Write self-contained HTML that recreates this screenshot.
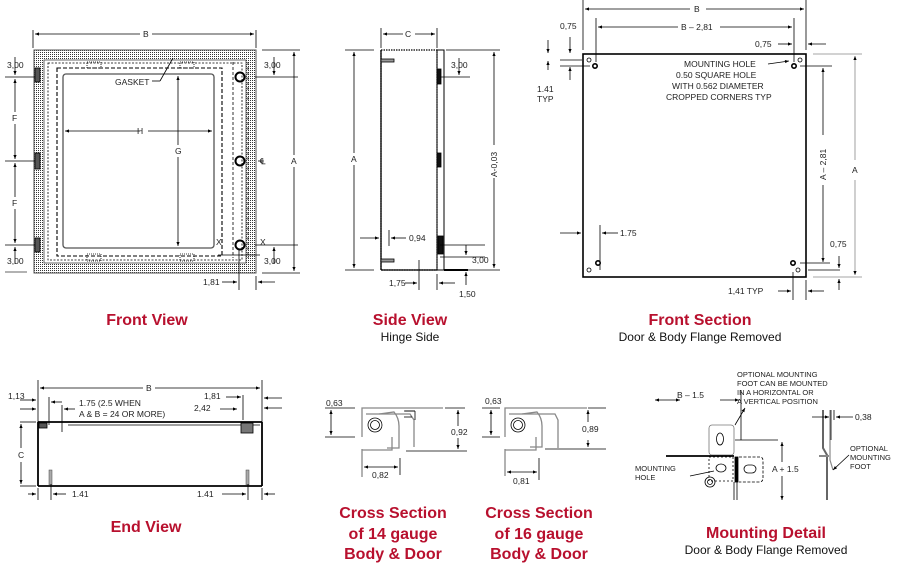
<!DOCTYPE html>
<html><head><meta charset="utf-8"><style>
html,body{margin:0;padding:0;background:#fff;}
svg{display:block;font-family:"Liberation Sans",Arial,sans-serif;}
.t{font-size:8.5px;fill:#222;}
.h{font-size:16px;font-weight:bold;fill:#b8102e;}
.s{font-size:12px;fill:#111;}
</style></head><body>
<svg width="899" height="567" viewBox="0 0 899 567" xmlns="http://www.w3.org/2000/svg">
<defs>
<marker id="a" viewBox="0 0 10 10" refX="10" refY="5" markerWidth="7" markerHeight="5" orient="auto-start-reverse"><path d="M0,1 L10,5 L0,9 z" fill="#000"/></marker>
<pattern id="dot" width="2" height="2" patternUnits="userSpaceOnUse"><rect width="1" height="1" fill="#333"/></pattern>
</defs>
<g stroke="#000" fill="none" stroke-width="0.8">
<!-- FRONT VIEW -->
<line x1="33" y1="30" x2="33" y2="48"/><line x1="256" y1="30" x2="256" y2="48"/>
<line x1="35" y1="34" x2="140" y2="34" marker-start="url(#a)"/><line x1="152" y1="34" x2="254" y2="34" marker-end="url(#a)"/>
<rect x="34" y="50" width="222" height="223" fill="url(#dot)" stroke="#555" stroke-width="1"/>
<rect x="44" y="60" width="202" height="203" fill="#fff" stroke="#444"/>
<rect x="48" y="63" width="194" height="197" stroke-dasharray="2,1.5"/>
<rect x="57" y="68" width="165" height="188" stroke-dasharray="4,2" stroke-width="1.1"/>
<rect x="63" y="74" width="151" height="174" rx="3" stroke="#555" stroke-width="1.3"/>
<line x1="233" y1="62" x2="233" y2="258" stroke-dasharray="3,2"/>
<line x1="248" y1="62" x2="248" y2="258" stroke-dasharray="3,2"/>
<rect x="35" y="68" width="5" height="14" fill="#555"/><rect x="35" y="153" width="5" height="16" fill="#555"/><rect x="35" y="238" width="5" height="14" fill="#555"/>
<circle cx="240" cy="77" r="4.5" stroke-width="2"/><circle cx="240" cy="161" r="4.5" stroke-width="2"/><circle cx="240" cy="245" r="4.5" stroke-width="2"/>
<rect x="87" y="62" width="14" height="6" stroke-dasharray="1,1"/><rect x="180" y="62" width="14" height="6" stroke-dasharray="1,1"/>
<rect x="87" y="254" width="14" height="7" stroke-dasharray="1,1"/><rect x="180" y="254" width="14" height="7" stroke-dasharray="1,1"/>
<line x1="65" y1="131" x2="140" y2="131" marker-start="url(#a)"/><line x1="148" y1="131" x2="212" y2="131" marker-end="url(#a)"/>
<line x1="178" y1="76" x2="178" y2="145" marker-start="url(#a)"/><line x1="178" y1="157" x2="178" y2="246" marker-end="url(#a)"/>
<line x1="152" y1="81" x2="160" y2="81"/><line x1="160" y1="81" x2="173" y2="58"/>
<line x1="5" y1="77" x2="35" y2="77"/><line x1="5" y1="161" x2="35" y2="161"/><line x1="5" y1="245" x2="35" y2="245"/>
<line x1="15" y1="79" x2="15" y2="112" marker-start="url(#a)"/><line x1="15" y1="124" x2="15" y2="159" marker-end="url(#a)"/>
<line x1="15" y1="163" x2="15" y2="197" marker-start="url(#a)"/><line x1="15" y1="209" x2="15" y2="243" marker-end="url(#a)"/>
<line x1="15" y1="57" x2="15" y2="75" marker-end="url(#a)"/><line x1="15" y1="264" x2="15" y2="247" marker-end="url(#a)"/>
<line x1="255" y1="77" x2="298" y2="77"/><line x1="255" y1="245" x2="298" y2="245"/><line x1="258" y1="161" x2="264" y2="161"/>
<line x1="262" y1="50" x2="300" y2="50"/><line x1="262" y1="273" x2="300" y2="273"/>
<line x1="294" y1="52" x2="294" y2="155" marker-start="url(#a)"/><line x1="294" y1="167" x2="294" y2="271" marker-end="url(#a)"/>
<line x1="274" y1="57" x2="274" y2="75" marker-end="url(#a)"/><line x1="274" y1="264" x2="274" y2="247" marker-end="url(#a)"/>
<line x1="218" y1="255" x2="260" y2="255"/>
<line x1="239" y1="250" x2="239" y2="290"/><line x1="256" y1="276" x2="256" y2="290"/>
<line x1="222" y1="282" x2="237" y2="282" marker-end="url(#a)"/><line x1="275" y1="282" x2="258" y2="282" marker-end="url(#a)"/>
<line x1="5" y1="272" x2="27" y2="272" stroke="#999" stroke-width="1.5"/>
<!-- SIDE VIEW -->
<line x1="381" y1="28" x2="381" y2="48"/><line x1="437" y1="28" x2="437" y2="48"/>
<line x1="383" y1="34" x2="403" y2="34" marker-start="url(#a)"/><line x1="415" y1="34" x2="435" y2="34" marker-end="url(#a)"/>
<rect x="381" y="50" width="56" height="220" stroke-dasharray="1.5,1" stroke-width="1.2"/>
<line x1="381" y1="50" x2="381" y2="270" stroke-width="1.3"/><line x1="381" y1="270" x2="437" y2="270" stroke-width="1.3"/>
<rect x="437" y="50" width="7" height="220" stroke-width="1"/>
<rect x="437" y="69" width="4" height="15" fill="#111"/><rect x="437" y="153" width="4" height="14" fill="#111"/><rect x="438" y="236" width="5" height="18" fill="#111"/>
<rect x="381" y="59" width="13" height="3" fill="#999"/><rect x="381" y="259" width="13" height="3" fill="#999"/>
<line x1="444" y1="270" x2="468" y2="270" stroke-width="2"/>
<line x1="345" y1="50" x2="374" y2="50"/><line x1="345" y1="270" x2="374" y2="270"/>
<line x1="354" y1="52" x2="354" y2="153" marker-start="url(#a)"/><line x1="354" y1="165" x2="354" y2="268" marker-end="url(#a)"/>
<line x1="446" y1="50" x2="500" y2="50"/><line x1="446" y1="270" x2="500" y2="270"/>
<line x1="494" y1="52" x2="494" y2="145" marker-start="url(#a)"/><line x1="494" y1="178" x2="494" y2="268" marker-end="url(#a)"/>
<line x1="440" y1="77" x2="470" y2="77"/><line x1="459" y1="58" x2="459" y2="75" marker-end="url(#a)"/>
<line x1="440" y1="245" x2="485" y2="245"/><line x1="440" y1="257" x2="485" y2="257"/>
<line x1="466" y1="245" x2="466" y2="255" marker-end="url(#a)"/><line x1="466" y1="285" x2="466" y2="272" marker-end="url(#a)"/>
<line x1="360" y1="238" x2="379" y2="238" marker-end="url(#a)"/><line x1="389" y1="230" x2="389" y2="246"/><line x1="406" y1="238" x2="391" y2="238" marker-end="url(#a)"/>
<line x1="419" y1="260" x2="419" y2="290"/><line x1="437" y1="274" x2="437" y2="290"/>
<line x1="405" y1="283" x2="417" y2="283" marker-end="url(#a)"/><line x1="455" y1="283" x2="439" y2="283" marker-end="url(#a)"/>
<!-- FRONT SECTION -->
<line x1="583" y1="0" x2="583" y2="50"/><line x1="806" y1="0" x2="806" y2="50"/>
<line x1="585" y1="9" x2="690" y2="9" marker-start="url(#a)"/><line x1="706" y1="9" x2="804" y2="9" marker-end="url(#a)"/>
<line x1="596" y1="18" x2="596" y2="62"/><line x1="794" y1="18" x2="794" y2="62"/>
<line x1="598" y1="27" x2="678" y2="27" marker-start="url(#a)"/><line x1="720" y1="27" x2="792" y2="27" marker-end="url(#a)"/>
<rect x="583" y="54" width="223" height="223" stroke-width="1.6"/>
<line x1="560" y1="60" x2="582" y2="60"/><line x1="560" y1="66" x2="590" y2="66"/>
<line x1="548" y1="40" x2="548" y2="53" marker-end="url(#a)"/><line x1="548" y1="70" x2="548" y2="61" marker-end="url(#a)"/>
<line x1="570" y1="37" x2="570" y2="53" marker-end="url(#a)"/><line x1="570" y1="80" x2="570" y2="67" marker-end="url(#a)"/>
<line x1="778" y1="44" x2="792" y2="44" marker-end="url(#a)"/><line x1="826" y1="44" x2="808" y2="44" marker-end="url(#a)"/>
<line x1="768" y1="64" x2="789" y2="61" marker-end="url(#a)"/>
<line x1="813" y1="54" x2="862" y2="54" stroke="#888"/><line x1="800" y1="66" x2="832" y2="66"/>
<line x1="855" y1="56" x2="855" y2="160" marker-start="url(#a)" stroke="#888"/><line x1="855" y1="180" x2="855" y2="275" marker-end="url(#a)" stroke="#888"/>
<line x1="813" y1="277" x2="862" y2="277" stroke="#888"/>
<line x1="823" y1="68" x2="823" y2="135" marker-start="url(#a)"/><line x1="823" y1="185" x2="823" y2="262" marker-end="url(#a)"/>
<line x1="800" y1="263" x2="830" y2="263"/><line x1="808" y1="270" x2="840" y2="270"/>
<line x1="839" y1="256" x2="839" y2="268" marker-end="url(#a)"/><line x1="839" y1="290" x2="839" y2="279" marker-end="url(#a)"/>
<line x1="560" y1="233" x2="581" y2="233" marker-end="url(#a)"/><line x1="600" y1="225" x2="600" y2="270"/><line x1="618" y1="233" x2="602" y2="233" marker-end="url(#a)"/>
<line x1="793" y1="272" x2="793" y2="300"/><line x1="806" y1="280" x2="806" y2="300"/>
<line x1="778" y1="291" x2="791" y2="291" marker-end="url(#a)"/><line x1="824" y1="291" x2="808" y2="291" marker-end="url(#a)"/>
<circle cx="589" cy="60" r="2"/><circle cx="595" cy="66" r="2.2" stroke-width="1.6"/>
<circle cx="800" cy="60" r="2"/><circle cx="794" cy="66" r="2.2" stroke-width="1.6"/>
<circle cx="589" cy="270" r="2"/><circle cx="598" cy="263" r="2.2" stroke-width="1.6"/>
<circle cx="798" cy="270" r="2"/><circle cx="793" cy="263" r="2.2" stroke-width="1.6"/>
<!-- END VIEW -->
<line x1="38" y1="380" x2="38" y2="422"/><line x1="262" y1="380" x2="262" y2="422"/>
<line x1="40" y1="388" x2="143" y2="388" marker-start="url(#a)"/><line x1="155" y1="388" x2="260" y2="388" marker-end="url(#a)"/>
<line x1="38" y1="422" x2="262" y2="422" stroke-width="1.8"/><line x1="38" y1="422" x2="38" y2="486" stroke-width="1.8"/><line x1="262" y1="422" x2="262" y2="486" stroke-width="1.8"/><line x1="38" y1="486" x2="262" y2="486" stroke-width="1.8"/>
<line x1="68" y1="425" x2="260" y2="425"/>
<rect x="39" y="423" width="8" height="5" fill="#555"/><rect x="241" y="423" width="12" height="10" fill="#777"/>
<rect x="49" y="470" width="3" height="15" fill="#aaa" stroke="#444" stroke-width="0.5"/><rect x="246" y="470" width="3" height="15" fill="#aaa" stroke="#444" stroke-width="0.5"/>
<line x1="20" y1="422" x2="36" y2="422"/><line x1="20" y1="486" x2="36" y2="486"/>
<line x1="21" y1="424" x2="21" y2="448" marker-start="url(#a)"/><line x1="21" y1="462" x2="21" y2="484" marker-end="url(#a)"/>
<line x1="20" y1="400" x2="36" y2="400" marker-end="url(#a)"/><line x1="20" y1="409" x2="36" y2="409" marker-end="url(#a)"/>
<line x1="49" y1="397" x2="49" y2="425"/><line x1="62" y1="402" x2="51" y2="402" marker-end="url(#a)"/>
<line x1="62" y1="405" x2="62" y2="432"/><line x1="75" y1="409" x2="64" y2="409" marker-end="url(#a)"/>
<line x1="226" y1="397" x2="241" y2="397" marker-end="url(#a)"/><line x1="243" y1="395" x2="243" y2="420"/>
<line x1="220" y1="409" x2="237" y2="409" marker-end="url(#a)"/>
<line x1="282" y1="398" x2="264" y2="398" marker-end="url(#a)"/><line x1="282" y1="408" x2="264" y2="408" marker-end="url(#a)"/>
<line x1="38" y1="488" x2="38" y2="500"/><line x1="51" y1="484" x2="51" y2="500"/>
<line x1="28" y1="494" x2="36" y2="494" marker-end="url(#a)"/><line x1="66" y1="494" x2="53" y2="494" marker-end="url(#a)"/>
<line x1="248" y1="484" x2="248" y2="500"/><line x1="262" y1="488" x2="262" y2="500"/>
<line x1="222" y1="494" x2="246" y2="494" marker-end="url(#a)"/><line x1="275" y1="494" x2="264" y2="494" marker-end="url(#a)"/>
<!-- CROSS SECTIONS -->
<g stroke="#888" stroke-width="1.3">
<path d="M443,408 L362,408 L362,437"/><path d="M362,449 L362,477 L362,450 L392,450 L392,437"/>
<path d="M379,414 L394,412 Q399,418 399,426 L399,448 L387,448"/><path d="M366,414 L410,414 L414,420 L414,447"/>
<path d="M587,408 L505,408 L505,437"/><path d="M505,449 L505,476 L505,450 L536,450 L536,437"/>
<path d="M522,414 L537,412 Q542,418 542,426 L542,447 L530,447"/><path d="M509,414 L555,414 L558,420 L558,448"/>
</g>
<circle cx="375" cy="425" r="7"/><circle cx="375" cy="425" r="4.5"/>
<circle cx="518" cy="425" r="7"/><circle cx="518" cy="425" r="4.5"/>
<line x1="404" y1="411" x2="415" y2="411"/><line x1="415" y1="411" x2="415" y2="420"/><line x1="404" y1="417" x2="412" y2="417"/>
<line x1="405" y1="411" x2="415" y2="411"/>
<line x1="325" y1="408" x2="355" y2="408"/><line x1="325" y1="437" x2="355" y2="437"/>
<line x1="331" y1="410" x2="331" y2="435" marker-start="url(#a)" marker-end="url(#a)"/>
<line x1="445" y1="408" x2="465" y2="408"/><line x1="406" y1="451" x2="467" y2="451"/>
<line x1="458" y1="410" x2="458" y2="426" marker-start="url(#a)"/><line x1="458" y1="438" x2="458" y2="449" marker-end="url(#a)"/>
<line x1="400" y1="458" x2="400" y2="475"/><line x1="364" y1="467" x2="398" y2="467" marker-start="url(#a)" marker-end="url(#a)"/>
<line x1="482" y1="408" x2="500" y2="408"/><line x1="482" y1="437" x2="500" y2="437"/>
<line x1="491" y1="410" x2="491" y2="435" marker-start="url(#a)" marker-end="url(#a)"/>
<line x1="588" y1="408" x2="606" y2="408"/><line x1="545" y1="449" x2="606" y2="449"/>
<line x1="588" y1="410" x2="588" y2="422" marker-start="url(#a)"/><line x1="588" y1="440" x2="588" y2="447" marker-end="url(#a)"/>
<line x1="539" y1="458" x2="539" y2="480"/><line x1="507" y1="472" x2="537" y2="472" marker-start="url(#a)" marker-end="url(#a)"/>
<!-- MOUNTING DETAIL -->
<line x1="655" y1="400" x2="680" y2="400" marker-start="url(#a)" marker-end="url(#a)"/><line x1="720" y1="400" x2="739" y2="400" marker-end="url(#a)"/>
<line x1="721" y1="392" x2="721" y2="420" stroke="none"/><line x1="741" y1="390" x2="741" y2="440"/>
<rect x="709" y="425" width="25" height="30" rx="3" stroke="#777"/><ellipse cx="720" cy="439" rx="3.5" ry="6"/>
<line x1="735" y1="440" x2="778" y2="440"/>
<line x1="735" y1="425" x2="745" y2="408" marker-end="url(#a)"/>
<line x1="666" y1="456" x2="734" y2="456" stroke-width="1.8"/>
<rect x="709" y="457" width="24" height="24" stroke-dasharray="2,2"/>
<ellipse cx="721" cy="468" rx="5" ry="4"/>
<rect x="735" y="457" width="3" height="25" fill="#000"/>
<path d="M739,457 L760,457 Q763,457 763,461 L763,478 Q763,482 759,482 L739,482" stroke-dasharray="3,1.5"/>
<rect x="744" y="465" width="12" height="8" rx="4"/>
<line x1="734" y1="482" x2="734" y2="500"/><line x1="737" y1="482" x2="737" y2="500"/>
<circle cx="710" cy="482" r="5"/><circle cx="710" cy="482" r="2.5"/>
<line x1="690" y1="476" x2="714" y2="471"/>
<line x1="782" y1="442" x2="782" y2="462" marker-start="url(#a)"/><line x1="782" y1="476" x2="782" y2="500" marker-end="url(#a)"/>
<path d="M823,410 L823,448 L827,455 L827,500" stroke="#666" stroke-width="2"/>
<path d="M830,410 L830,460 L833,470" stroke="#888" stroke-width="1.2"/>
<line x1="819" y1="456" x2="829" y2="456" stroke="#888" stroke-width="2"/>
<line x1="831" y1="410" x2="831" y2="440"/><line x1="834" y1="410" x2="834" y2="420"/>
<line x1="812" y1="417" x2="829" y2="417" marker-end="url(#a)"/><line x1="853" y1="417" x2="836" y2="417" marker-end="url(#a)"/>
<line x1="849" y1="455" x2="833" y2="470" marker-end="url(#a)"/>
</g>
<!-- TEXT -->
<g class="t">
<text x="143" y="37">B</text>
<text x="115" y="85">GASKET</text>
<text x="137" y="134">H</text>
<text x="175" y="154">G</text>
<text x="7" y="68">3,00</text><text x="7" y="264">3,00</text>
<text x="12" y="121">F</text><text x="12" y="206">F</text>
<text x="264" y="68">3,00</text><text x="264" y="264">3,00</text>
<text x="291" y="164">A</text><text x="260" y="164">℄</text>
<text x="216" y="245">X</text><text x="260" y="245">X</text>
<text x="203" y="285">1,81</text>
<text x="405" y="37">C</text>
<text x="351" y="162">A</text>
<text x="451" y="68">3,00</text><text x="472" y="263">3,00</text>
<text x="409" y="241">0,94</text>
<text x="389" y="286">1,75</text>
<text x="459" y="297">1,50</text>
<text transform="translate(497,177) rotate(-90)">A-0,03</text>
<text x="694" y="12">B</text>
<text x="681" y="30">B – 2,81</text>
<text x="560" y="29">0,75</text>
<text x="755" y="47">0,75</text>
<text x="537" y="92">1.41</text><text x="537" y="102">TYP</text>
<text x="684" y="67">MOUNTING HOLE</text>
<text x="676" y="78">0.50 SQUARE HOLE</text>
<text x="672" y="89">WITH 0.562 DIAMETER</text>
<text x="666" y="100">CROPPED CORNERS TYP</text>
<text x="852" y="173">A</text>
<text transform="translate(826,180) rotate(-90)">A – 2,81</text>
<text x="620" y="236">1.75</text>
<text x="830" y="247">0,75</text>
<text x="728" y="294">1,41 TYP</text>
<text x="146" y="391">B</text>
<text x="8" y="399">1,13</text>
<text x="79" y="406">1.75 (2.5 WHEN</text>
<text x="79" y="417">A &amp; B = 24 OR MORE)</text>
<text x="204" y="399">1,81</text>
<text x="194" y="411">2,42</text>
<text x="18" y="458">C</text>
<text x="72" y="497">1.41</text><text x="197" y="497">1.41</text>
<text x="326" y="406">0,63</text><text x="451" y="435">0,92</text><text x="372" y="478">0,82</text>
<text x="485" y="404">0,63</text><text x="582" y="432">0,89</text><text x="513" y="484">0,81</text>
<text x="677" y="398">B – 1.5</text>
<text x="737" y="377" style="font-size:7.5px">OPTIONAL MOUNTING</text>
<text x="737" y="386" style="font-size:7.5px">FOOT CAN BE MOUNTED</text>
<text x="737" y="395" style="font-size:7.5px">IN A HORIZONTAL OR</text>
<text x="737" y="404" style="font-size:7.5px">A VERTICAL POSITION</text>
<text x="855" y="420">0,38</text>
<text x="850" y="451" style="font-size:7.5px">OPTIONAL</text>
<text x="850" y="460" style="font-size:7.5px">MOUNTING</text>
<text x="850" y="469" style="font-size:7.5px">FOOT</text>
<text x="635" y="471" style="font-size:7.5px">MOUNTING</text>
<text x="635" y="480" style="font-size:7.5px">HOLE</text>
<text x="772" y="472">A + 1.5</text>
</g>
<g text-anchor="middle">
<text class="h" x="147" y="325">Front View</text>
<text class="h" x="410" y="325">Side View</text>
<text class="s" x="410" y="341">Hinge Side</text>
<text class="h" x="700" y="325">Front Section</text>
<text class="s" x="700" y="341">Door &amp; Body Flange Removed</text>
<text class="h" x="146" y="532">End View</text>
<text class="h" x="393" y="518">Cross Section</text>
<text class="h" x="393" y="539">of 14 gauge</text>
<text class="h" x="393" y="559">Body &amp; Door</text>
<text class="h" x="539" y="518">Cross Section</text>
<text class="h" x="539" y="539">of 16 gauge</text>
<text class="h" x="539" y="559">Body &amp; Door</text>
<text class="h" x="766" y="538">Mounting Detail</text>
<text class="s" x="766" y="554">Door &amp; Body Flange Removed</text>
</g>
</svg>
</body></html>
